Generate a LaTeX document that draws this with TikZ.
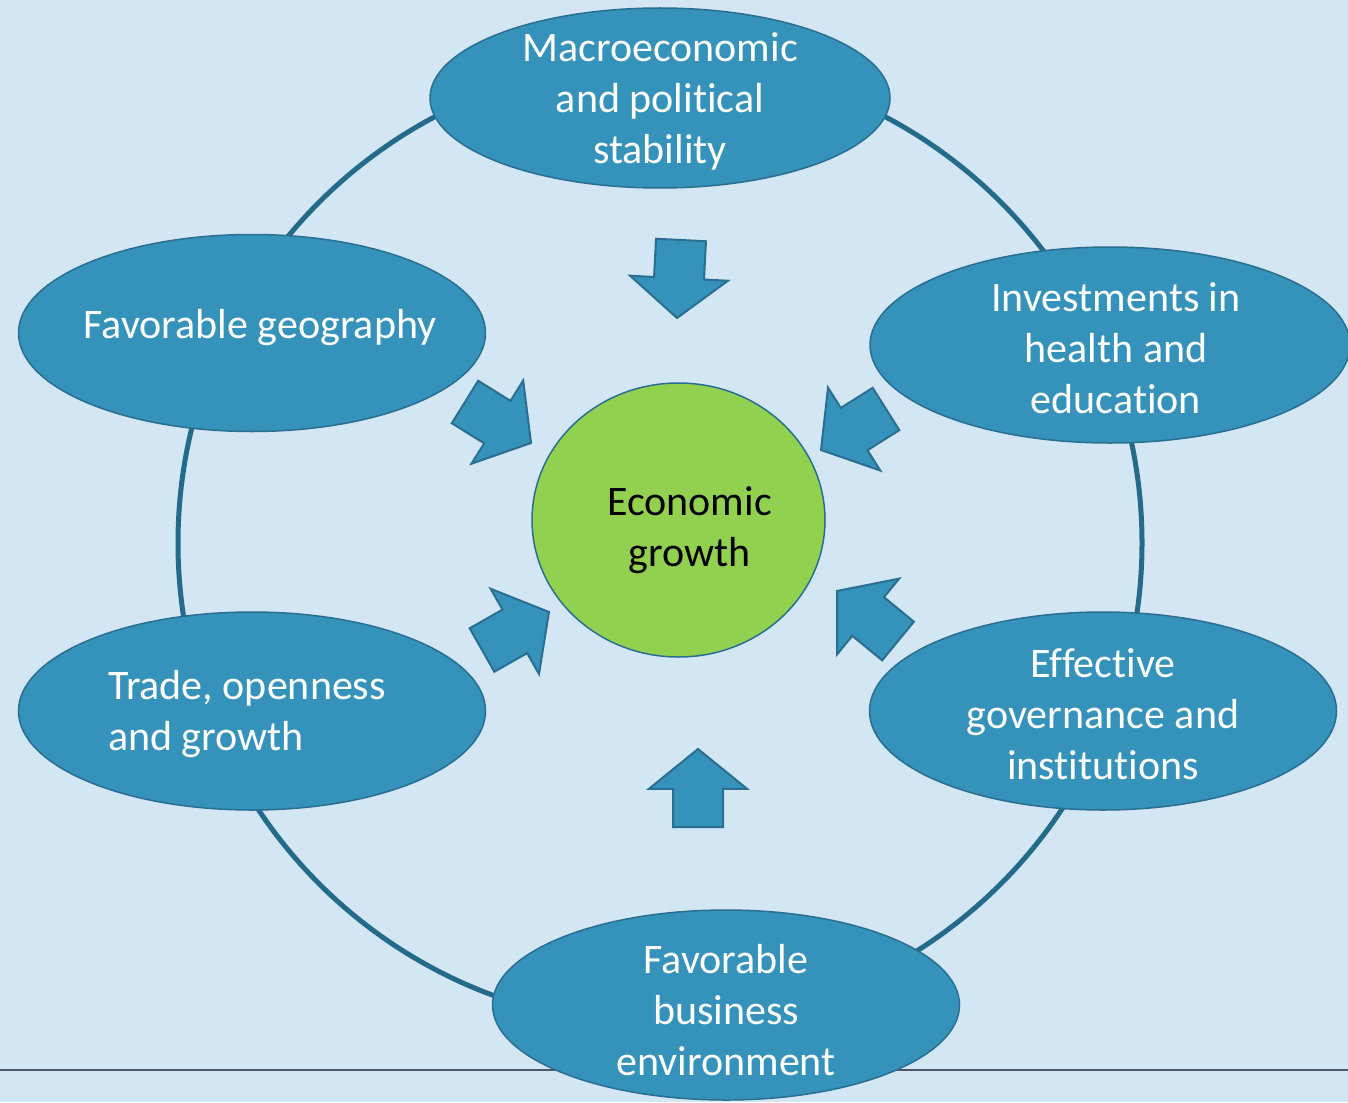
\documentclass[tikz,border=0pt]{standalone}
\usepackage{fontspec}
\setmainfont{Carlito}[Ligatures=NoCommon]
\usetikzlibrary{shapes.geometric,calc}

\definecolor{paleblue}{HTML}{D2E6F4}
\definecolor{boxblue}{HTML}{3592BA}
\definecolor{edgeblue}{HTML}{2A6F92}
\definecolor{ringblue}{HTML}{246A8A}
\definecolor{growthgreen}{HTML}{92D050}
\definecolor{rulegray}{HTML}{55556E}

% block arrow from tail #1 to tip #2
\newcommand{\blockarrow}[2]{%
  \coordinate (#1-neck) at ($(#1)!0.49!(#2)$);
  \draw[arrowbox] ($(#1)!25pt!90:(#2)$) -- ($(#1-neck)!25pt!90:(#2)$)
    -- ($(#1-neck)!49pt!90:(#2)$) -- (#2) -- ($(#1-neck)!49pt!-90:(#2)$)
    -- ($(#1-neck)!25pt!-90:(#2)$) -- ($(#1)!25pt!-90:(#2)$) -- cycle;}

\begin{document}
\begin{tikzpicture}[x=1pt,y=-1pt,
    factor/.style={ellipse,draw=edgeblue,line width=1.5pt,fill=boxblue,inner sep=0pt},
    factortext/.style={text=white,align=center,inner sep=0pt,yshift=-3pt,font=\fontsize{42}{51}\selectfont},
    arrowbox/.style={draw=edgeblue,line width=2pt,fill=boxblue,line join=miter},
    ring/.style={draw=ringblue,line width=5pt},
    footline/.style={draw=rulegray,line width=2pt}]
  \fill[paleblue] (0,0) rectangle (1348,1102);
  \useasboundingbox (0,0) rectangle (1348,1102);
  \clip (0,0) rectangle (1348,1102);

  \coordinate (left end) at (0,1070);
  \coordinate (right end) at (1348,1070);
  \draw[footline] (left end) -- (right end);
  \coordinate (hub) at (660,543);
  \draw[ring] (hub) circle[radius=482pt];

  % the six factors
  \node[factor,minimum width=460pt,minimum height=180pt,
    label={[factortext]center:{Macroeconomic\\and political\\stability}}] (stability) at (660,98) {};
  \node[factor,minimum width=467pt,minimum height=197pt,
    label={[factortext,xshift=8pt,yshift=8pt]center:{Favorable geography}}] (geography) at (252,333) {};
  \node[factor,minimum width=480pt,minimum height=196pt,
    label={[factortext,xshift=6pt]center:{Investments in\\health and\\education}}] (health) at (1110,345) {};
  \node[factor,minimum width=467pt,minimum height=198pt,
    label={[factortext,align=left,xshift=-5pt]center:{Trade, openness\\and growth}}] (trade) at (252,711) {};
  \node[factor,minimum width=467pt,minimum height=198pt,
    label={[factortext]center:{Effective\\governance and\\institutions}}] (governance) at (1103,711) {};
  \node[factor,minimum width=467pt,minimum height=190pt,
    label={[factortext,yshift=-2pt]center:{Favorable\\business\\environment}}] (business) at (726,1005) {};

  \node[ellipse,draw=edgeblue,line width=1.5pt,fill=growthgreen,minimum width=293pt,minimum height=274pt,
    label={[factortext,text=black,xshift=11pt,yshift=-7pt]center:{Economic\\growth}}] (growth) at (678.5,520) {};

  % arrows into the centre
  \coordinate (tA) at (681,240); \coordinate (hA) at (677,318);
  \coordinate (tB) at (465,402); \coordinate (hB) at (531,443);
  \coordinate (tC) at (886,409); \coordinate (hC) at (821,450);
  \coordinate (tD) at (482,650); \coordinate (hD) at (549,612);
  \coordinate (tE) at (898,641); \coordinate (hE) at (837,591);
  \coordinate (tF) at (698,827); \coordinate (hF) at (698,749);
  \blockarrow{tA}{hA}
  \blockarrow{tB}{hB}
  \blockarrow{tC}{hC}
  \blockarrow{tD}{hD}
  \blockarrow{tE}{hE}
  \blockarrow{tF}{hF}
\end{tikzpicture}
\end{document}
